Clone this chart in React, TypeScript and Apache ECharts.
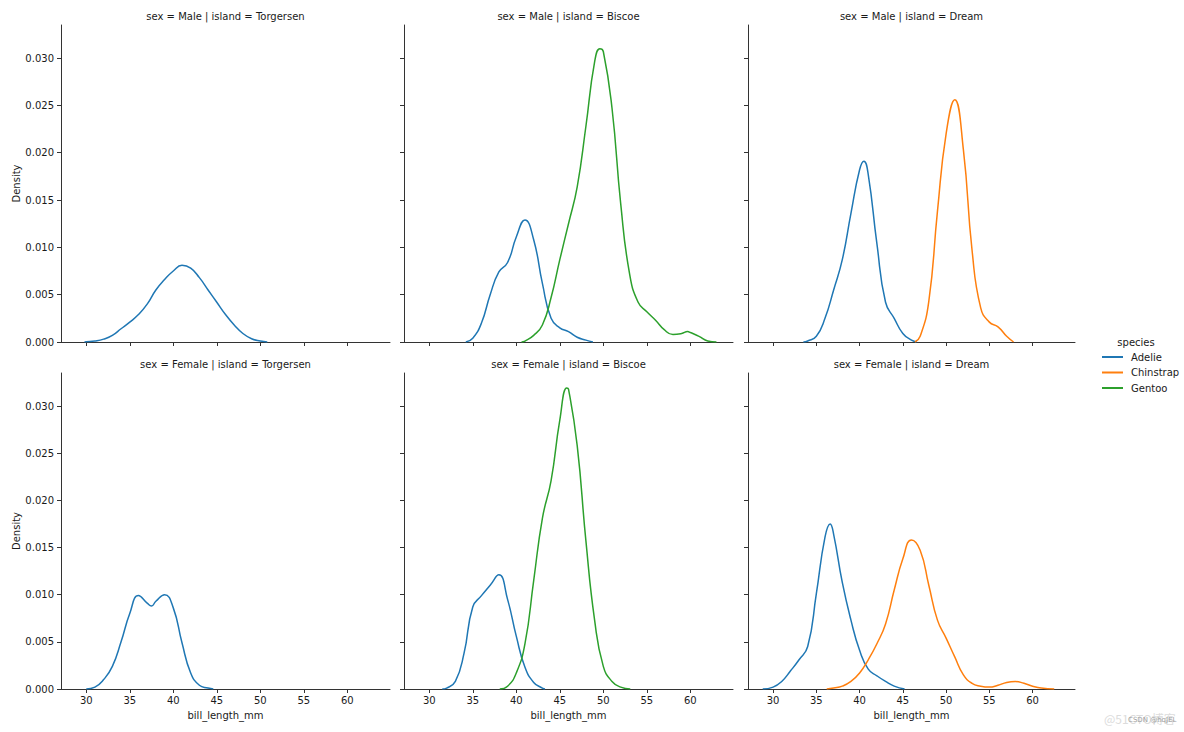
import React, { useEffect, useRef } from "react";
import * as echarts from "echarts";

// ---------- data ----------
const speciesNames = ["Adelie", "Chinstrap", "Gentoo"];
const speciesColors = ["#1f77b4", "#ff7f0e", "#2ca02c"];
const yTickValues = [0, 0.005, 0.01, 0.015, 0.02, 0.025, 0.03];
const xTickValues = [30, 35, 40, 45, 50, 55, 60];
const panelTitles = [
  "sex = Male | island = Torgersen",
  "sex = Male | island = Biscoe",
  "sex = Male | island = Dream",
  "sex = Female | island = Torgersen",
  "sex = Female | island = Biscoe",
  "sex = Female | island = Dream",
];

// Male / Torgersen
const mtAdelieX = [29.8, 30, 31, 32, 33, 34, 35, 36, 37, 38, 39, 40, 41, 42, 43, 44, 45, 46, 47, 48, 49, 50, 50.8];
const mtAdelieY = [0, 0.00002, 0.0001, 0.0003, 0.0007, 0.0014, 0.0021, 0.0029, 0.004, 0.0055, 0.0066, 0.0075, 0.0081, 0.0078, 0.0068, 0.0055, 0.0042, 0.0029, 0.0018, 0.0009, 0.00035, 0.0001, 0];

// Male / Biscoe
const mbAdelieX = [34.2, 35, 36, 37, 38, 39, 40, 41, 42, 43, 44, 45, 46, 47, 48, 48.8];
const mbAdelieY = [0, 0.0004, 0.002, 0.005, 0.0074, 0.0084, 0.0111, 0.0129, 0.0108, 0.0062, 0.0025, 0.0015, 0.0011, 0.0005, 0.0002, 0];
const mbGentooX = [40.6, 41, 42, 43, 44, 45, 46, 47, 48, 49, 49.6, 50, 51, 52, 53, 54, 55, 56, 57, 58, 59, 59.7, 60, 61, 62, 63];
const mbGentooY = [0, 0.0001, 0.0007, 0.0018, 0.0047, 0.0087, 0.0125, 0.0164, 0.0228, 0.0296, 0.031, 0.0307, 0.0247, 0.0146, 0.0073, 0.0042, 0.0032, 0.0023, 0.0013, 0.0008, 0.0009, 0.0011, 0.001, 0.0006, 0.0001, 0];

// Male / Dream
const mdAdelieX = [33.5, 34, 35, 36, 37, 38, 39, 40, 40.5, 41, 42, 43, 44, 45, 46, 46.6];
const mdAdelieY = [0, 0.0001, 0.0006, 0.0025, 0.0055, 0.0087, 0.0136, 0.0182, 0.0191, 0.0177, 0.0104, 0.0042, 0.0025, 0.0009, 0.0002, 0];
const mdChinstrapX = [46.4, 47, 48, 49, 50, 51, 52, 53, 54, 55, 56, 57, 57.8];
const mdChinstrapY = [0, 0.0006, 0.0043, 0.0138, 0.022, 0.0256, 0.0203, 0.0097, 0.0036, 0.0021, 0.0016, 0.0006, 0];

// Female / Torgersen
const ftAdelieX = [30, 31, 32, 33, 34, 35, 36, 37, 37.5, 38, 39, 40, 41, 42, 43, 44, 44.6];
const ftAdelieY = [0, 0.0002, 0.001, 0.0024, 0.005, 0.008, 0.0099, 0.0091, 0.0088, 0.0093, 0.01, 0.0086, 0.0049, 0.0017, 0.0004, 0.0001, 0];

// Female / Biscoe
const fbAdelieX = [31.5, 32, 33, 34, 35, 36, 37, 38, 39, 40, 41, 42, 43, 43.3];
const fbAdelieY = [0, 0.0001, 0.0008, 0.0038, 0.0087, 0.0099, 0.011, 0.0121, 0.0095, 0.0056, 0.0023, 0.0007, 0.0001, 0];
const fbGentooX = [38.1, 39, 40, 41, 42, 43, 44, 45, 45.8, 46, 47, 48, 49, 50, 51, 52, 53.1];
const fbGentooY = [0, 0.0003, 0.0017, 0.0048, 0.0115, 0.0181, 0.0221, 0.0285, 0.0319, 0.0318, 0.0258, 0.0157, 0.0073, 0.0024, 0.0008, 0.0002, 0];

// Female / Dream
const fdAdelieX = [28.8, 30, 31, 32, 33, 34, 35, 36, 36.6, 37, 38, 39, 40, 41, 42, 43, 44, 45.2];
const fdAdelieY = [0, 0.0002, 0.0008, 0.0019, 0.0031, 0.0045, 0.0101, 0.0161, 0.0175, 0.0164, 0.0113, 0.0073, 0.0041, 0.0021, 0.0014, 0.0008, 0.0003, 0];
const fdChinstrapX = [36.2, 37, 38, 39, 40, 41, 42, 43, 44, 45, 46, 47, 48, 49, 50, 51, 52, 53, 54, 55, 56, 57, 58, 59, 60, 61, 62.5];
const fdChinstrapY = [0, 0.0001, 0.0003, 0.0008, 0.0017, 0.0031, 0.0048, 0.0069, 0.0105, 0.0138, 0.0158, 0.0147, 0.011, 0.0073, 0.0054, 0.0034, 0.0015, 0.0006, 0.0003, 0.0002, 0.0004, 0.0007, 0.0008, 0.0006, 0.0003, 0.0001, 0];

const panelCurves = [
  [{ s: 0, x: mtAdelieX, y: mtAdelieY }],
  [{ s: 0, x: mbAdelieX, y: mbAdelieY }, { s: 2, x: mbGentooX, y: mbGentooY }],
  [{ s: 0, x: mdAdelieX, y: mdAdelieY }, { s: 1, x: mdChinstrapX, y: mdChinstrapY }],
  [{ s: 0, x: ftAdelieX, y: ftAdelieY }],
  [{ s: 0, x: fbAdelieX, y: fbAdelieY }, { s: 2, x: fbGentooX, y: fbGentooY }],
  [{ s: 0, x: fdAdelieX, y: fdAdelieY }, { s: 1, x: fdChinstrapX, y: fdChinstrapY }],
];

// ---------- layout ----------
const FONT = "DejaVu Sans";
const gridLefts = [61, 404, 748];
const gridWidths = [329, 329, 327];
const gridTops = [25, 373];
const gridHeights = [317, 316];
const titleYs = [16, 364];
const AXIS_COLOR = "#333333";
const TEXT_COLOR = "#1a1a1a";

export default function App() {
  const ref = useRef<HTMLDivElement>(null);

  useEffect(() => {
    document.body.style.margin = "0";
    if (!ref.current) return;
    const chart = echarts.init(ref.current, null, { renderer: "svg" });

    const grids: any[] = [];
    const xAxes: any[] = [];
    const yAxes: any[] = [];
    const series: any[] = [];
    const graphics: any[] = [];

    for (let i = 0; i < 6; i++) {
      const row = Math.floor(i / 3);
      const col = i % 3;
      grids.push({
        left: gridLefts[col],
        top: gridTops[row],
        width: gridWidths[col],
        height: gridHeights[row],
        containLabel: false,
        outerBoundsMode: "none",
      });
      xAxes.push({
        type: "value",
        gridIndex: i,
        min: 27.1,
        max: 64.9,
        axisLine: { show: true, onZero: false, lineStyle: { color: AXIS_COLOR, width: 1 } },
        axisTick: { show: true, inside: false, length: 4, customValues: xTickValues, lineStyle: { color: AXIS_COLOR } },
        axisLabel: {
          show: row === 1,
          customValues: xTickValues,
          margin: 6,
          fontSize: 10,
          fontFamily: FONT,
          color: TEXT_COLOR,
        },
        splitLine: { show: false },
        name: row === 1 ? "bill_length_mm" : "",
        nameLocation: "middle",
        nameGap: 21,
        nameTextStyle: { fontSize: 10, fontFamily: FONT, color: TEXT_COLOR },
      });
      yAxes.push({
        type: "value",
        gridIndex: i,
        min: 0,
        max: 0.0335,
        axisLine: { show: true, onZero: false, lineStyle: { color: AXIS_COLOR, width: 1 } },
        axisTick: { show: true, inside: false, length: 4, customValues: yTickValues, lineStyle: { color: AXIS_COLOR } },
        axisLabel: {
          show: col === 0,
          customValues: yTickValues,
          margin: 7,
          fontSize: 10,
          fontFamily: FONT,
          color: TEXT_COLOR,
          formatter: (v: number) => v.toFixed(3),
        },
        splitLine: { show: false },
        name: col === 0 ? "Density" : "",
        nameLocation: "middle",
        nameGap: 40,
        nameTextStyle: { fontSize: 10, fontFamily: FONT, color: TEXT_COLOR },
      });
      for (const c of panelCurves[i]) {
        series.push({
          type: "line",
          name: speciesNames[c.s],
          xAxisIndex: i,
          yAxisIndex: i,
          data: c.x.map((xv, k) => [xv, c.y[k]]),
          smooth: 0.5,
          showSymbol: false,
          symbol: "none",
          lineStyle: { color: speciesColors[c.s], width: 1.5 },
          itemStyle: { color: speciesColors[c.s] },
          emphasis: { disabled: true },
        });
      }
      graphics.push({
        type: "text",
        x: gridLefts[col] + gridWidths[col] / 2,
        y: titleYs[row],
        style: {
          text: panelTitles[i],
          fontSize: 10,
          fontFamily: FONT,
          fill: TEXT_COLOR,
          textAlign: "center",
          textVerticalAlign: "middle",
        },
      });
    }

    graphics.push({
      type: "text",
      x: 1136,
      y: 342,
      style: {
        text: "species",
        fontSize: 10,
        fontFamily: FONT,
        fill: TEXT_COLOR,
        textAlign: "center",
        textVerticalAlign: "middle",
      },
    });
    graphics.push({
      type: "text",
      x: 1104,
      y: 718,
      style: {
        text: "@51CTO博客",
        fontSize: 12,
        fontFamily: "Noto Sans CJK SC",
        fill: "#dcdcdc",
        textAlign: "left",
        textVerticalAlign: "middle",
      },
    });
    graphics.push({
      type: "text",
      x: 1128,
      y: 720,
      style: {
        text: "CSDN @hqJEL",
        fontSize: 7,
        fontFamily: FONT,
        fill: "#a0a0a0",
        textAlign: "left",
        textVerticalAlign: "middle",
      },
    });

    chart.setOption({
      animation: false,
      backgroundColor: "#ffffff",
      grid: grids,
      xAxis: xAxes,
      yAxis: yAxes,
      series,
      graphic: graphics,
      legend: {
        data: speciesNames,
        orient: "vertical",
        left: 1097,
        top: 346,
        icon: "rect",
        itemWidth: 21,
        itemHeight: 2,
        itemGap: 3.5,
        selectedMode: false,
        textStyle: { fontSize: 10, fontFamily: FONT, color: TEXT_COLOR, lineHeight: 12, padding: [0, 0, 0, 3] },
      },
      tooltip: { show: false },
    });

    return () => chart.dispose();
  }, []);

  return <div ref={ref} style={{ width: 1184, height: 732, background: "#fff" }} />;
}
